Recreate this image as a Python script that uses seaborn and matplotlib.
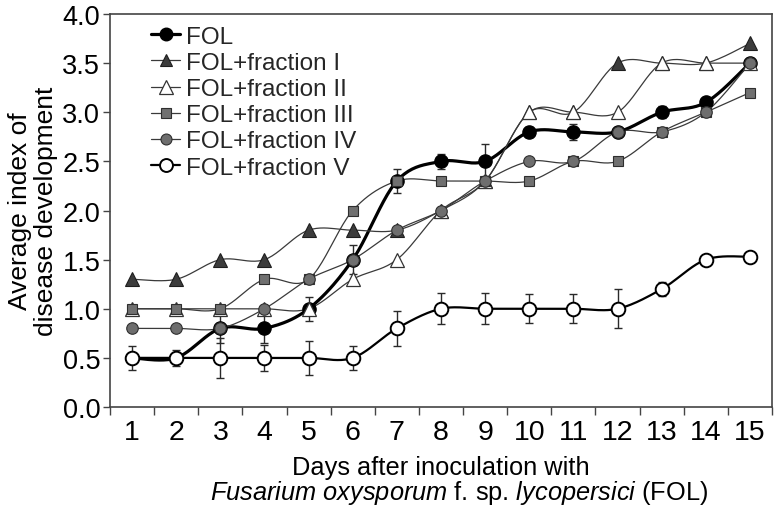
import numpy as np
import pandas as pd
import matplotlib
matplotlib.use("Agg")
import matplotlib.pyplot as plt
from matplotlib.lines import Line2D
import seaborn as sns

# ---------------- data ----------------
days = [1, 2, 3, 4, 5, 6, 7, 8, 9, 10, 11, 12, 13, 14, 15]
fol      = [0.5, 0.5, 0.8, 0.8, 1.0, 1.5, 2.3, 2.5, 2.5, 2.8, 2.8, 2.8, 3.0, 3.1, 3.5]
fol_err  = [0.0, 0.05, 0.15, 0.15, 0.12, 0.15, 0.12, 0.08, 0.18, 0.05, 0.08, 0.04, 0.06, 0.03, 0.0]
frac_i   = [1.3, 1.3, 1.5, 1.5, 1.8, 1.8, 1.8, 2.0, 2.3, 3.0, 3.0, 3.5, 3.5, 3.5, 3.7]
frac_ii  = [1.0, 1.0, 1.0, 1.0, 1.0, 1.3, 1.5, 2.0, 2.3, 3.0, 3.0, 3.0, 3.5, 3.5, 3.5]
frac_iii = [1.0, 1.0, 1.0, 1.3, 1.3, 2.0, 2.3, 2.3, 2.3, 2.3, 2.5, 2.5, 2.8, 3.0, 3.2]
frac_iv  = [0.8, 0.8, 0.8, 1.0, 1.3, 1.5, 1.8, 2.0, 2.3, 2.5, 2.5, 2.8, 2.8, 3.0, 3.5]
frac_v   = [0.5, 0.5, 0.5, 0.5, 0.5, 0.5, 0.8, 1.0, 1.0, 1.0, 1.0, 1.0, 1.2, 1.5, 1.53]
frac_v_err = [0.12, 0.08, 0.2, 0.13, 0.17, 0.12, 0.18, 0.16, 0.16, 0.15, 0.15, 0.2, 0.07, 0.0, 0.0]
labels = ["FOL", "FOL+fraction I", "FOL+fraction II", "FOL+fraction III",
          "FOL+fraction IV", "FOL+fraction V"]
y_ticks = [0.0, 0.5, 1.0, 1.5, 2.0, 2.5, 3.0, 3.5, 4.0]

# ---------------- style ----------------
sns.set_theme(style="ticks")
plt.rcParams["font.family"] = ["Liberation Sans", "DejaVu Sans"]
plt.rcParams["mathtext.fontset"] = "custom"
plt.rcParams["mathtext.rm"] = "Liberation Sans"
plt.rcParams["mathtext.it"] = "Liberation Sans:italic"

fig = plt.figure(figsize=(7.74, 5.06), dpi=100)
ax = fig.add_axes([110 / 774, 1 - 408 / 506, 662 / 774, 393 / 506])


def smooth(x, y, n=24):
    pts = np.column_stack([x, y]).astype(float)
    P = np.vstack([pts[0], pts, pts[-1]])
    out = []
    t = np.linspace(0, 1, n)[:, None]
    for i in range(1, len(P) - 2):
        p0, p1, p2, p3 = P[i - 1], P[i], P[i + 1], P[i + 2]
        c1 = p1 + (p2 - p0) / 6.0
        c2 = p2 - (p3 - p1) / 6.0
        seg = ((1 - t) ** 3) * p1 + 3 * ((1 - t) ** 2) * t * c1 + 3 * (1 - t) * t ** 2 * c2 + t ** 3 * p2
        out.append(seg if i == 1 else seg[1:])
    return np.vstack(out)


thin = "#3a3a3a"
series = [
    # values, line color, line width, marker, size, face, edge, mew
    (fol,      "#000000", 2.3, "o", 9.5, "#000000", "#000000", 1.0),
    (frac_i,   thin,      0.9, "^", 9.5, "#3c3c3c", "#1e1e1e", 0.8),
    (frac_ii,  thin,      0.9, "^", 10,  "#ffffff", "#333333", 0.9),
    (frac_iii, thin,      0.9, "s", 7.8, "#707070", "#2e2e2e", 0.8),
    (frac_iv,  thin,      0.9, "o", 8.3, "#6e6e6e", "#2e2e2e", 0.8),
    (frac_v,   "#000000", 1.6, "o", 9.8, "#ffffff", "#000000", 1.4),
]

# smoothed connecting lines
for k, (vals, lc, lw, *_rest) in enumerate(series):
    curve = smooth(days, vals)
    df = pd.DataFrame({"day": curve[:, 0], "val": curve[:, 1]})
    sns.lineplot(data=df, x="day", y="val", sort=False, estimator=None,
                 color=lc, lw=lw, ax=ax, zorder=2 + 0.01 * k)

# error bars
ax.errorbar(days, fol, yerr=fol_err, fmt="none", ecolor="#2a2a2a",
            elinewidth=1.0, capsize=3.2, capthick=1.0, zorder=2.5)
ax.errorbar(days, frac_v, yerr=frac_v_err, fmt="none", ecolor="#2a2a2a",
            elinewidth=1.0, capsize=3.2, capthick=1.0, zorder=2.5)

# markers
for k, (vals, lc, lw, mk, ms, fc, ec, mew) in enumerate(series):
    ax.plot(days, vals, ls="none", marker=mk, ms=ms, mfc=fc, mec=ec, mew=mew,
            zorder=3 + 0.1 * k)

# axes
ax.set_xlim(0.5, 15.5)
ax.set_ylim(0, 4.0)
ax.set_yticks(y_ticks)
ax.set_yticklabels([f"{v:.1f}" for v in y_ticks])
ax.set_xticks(days)
ax.set_xticklabels([str(d) for d in days])
ax.set_xticks(np.arange(0.5, 16, 1.0), minor=True)
ax.tick_params(axis="x", which="major", length=0, labelsize=20.5, pad=9, colors="#000000")
ax.tick_params(axis="x", which="minor", length=6, width=1.0, color="#444444", direction="out")
ax.tick_params(axis="y", which="major", length=5, width=1.0, color="#444444",
               labelsize=19.5, pad=2, direction="out", labelcolor="#000000")
for s in ax.spines.values():
    s.set_visible(True)
    s.set_color("#444444")
    s.set_linewidth(1.2)
ax.grid(False)
ax.set_facecolor("white")

ax.set_ylabel("Average index of\ndisease development", fontsize=19,
              linespacing=1.1, labelpad=3, color="#000000")
ax.set_xlabel("Days after inoculation with", fontsize=18.3, labelpad=7, color="#000000")
fig.text(0.593, 1 - 493 / 506,
         r"$\mathit{Fusarium\ oxysporum}$ f. sp. $\mathit{lycopersici}$ (FOL)",
         fontsize=18.3, ha="center", va="center", color="#000000")

# legend
handles = []
for (vals, lc, lw, mk, ms, fc, ec, mew) in series:
    handles.append(Line2D([0], [0], color=lc, lw=lw, marker=mk, ms=ms * 0.95,
                          mfc=fc, mec=ec, mew=mew))
leg = ax.legend(handles, labels, loc="upper left", bbox_to_anchor=(0.062, 0.97),
                frameon=False, fontsize=17.5, handlelength=1.2, handletextpad=0.25,
                labelspacing=0.17, borderpad=0, borderaxespad=0)

fig.savefig("out.png", dpi=100, facecolor="white")
